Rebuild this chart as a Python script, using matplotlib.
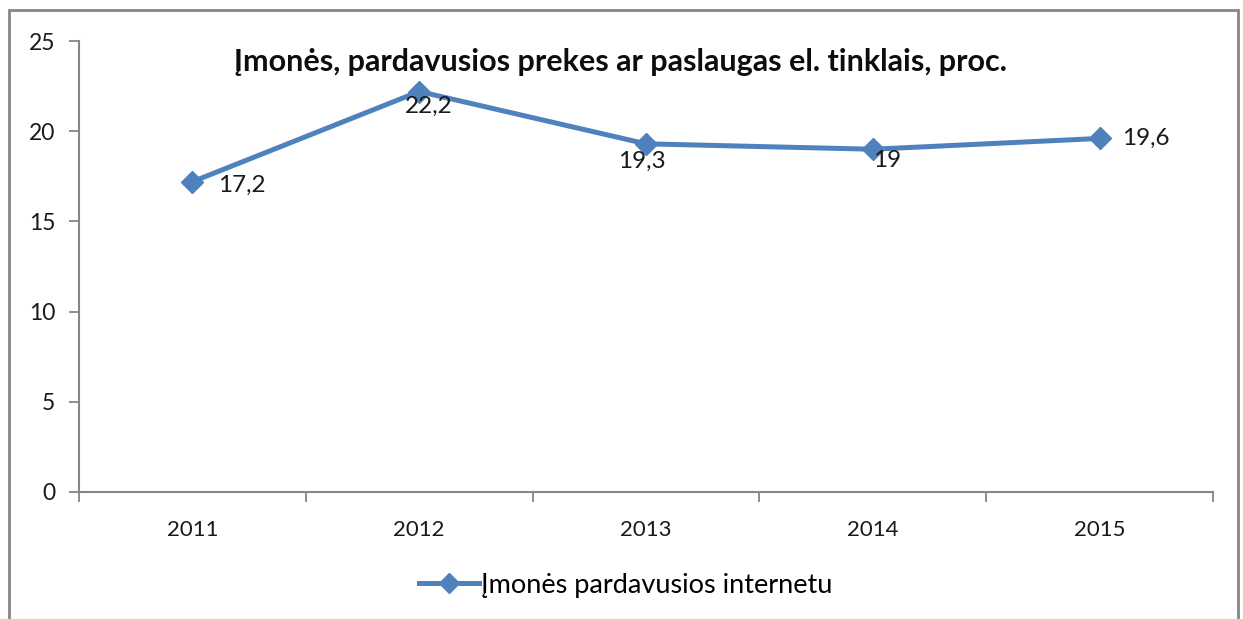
import matplotlib.pyplot as plt
from matplotlib.patches import Rectangle
from matplotlib.lines import Line2D

plt.rcParams['font.family'] = ['Lato', 'DejaVu Sans']

# --- DATOS ---
metai = ['2011', '2012', '2013', '2014', '2015']
reiksmes = [17.2, 22.2, 19.3, 19.0, 19.6]
etiketes = ['17,2', '22,2', '19,3', '19', '19,6']
# poslinkis etikečių (pikseliais), kaip Excel'yje
poslinkiai = [(26, -4), (10, -15), (-4, -18), (14, -11), (22, 0)]
lygiuote = ['left', 'center', 'center', 'center', 'left']

pavadinimas = 'Įmonės, pardavusios prekes ar paslaugas el. tinklais, proc.'
legenda = 'Įmonės pardavusios internetu'

MELYNA = '#4F81BD'
PILKA = '#868686'
TEKSTAS = '#1a1a1a'

fig = plt.figure(figsize=(12.43, 6.19), dpi=100)

# išorinis rėmelis
fig.patches.append(Rectangle((9 / 1243, -0.05), (1238 - 9) / 1243, 1.05 - 10 / 619,
                             transform=fig.transFigure, fill=False,
                             edgecolor=PILKA, linewidth=2))

ax = fig.add_axes([79 / 1243, (619 - 492) / 619, (1213 - 79) / 1243, (492 - 41) / 619])

x = list(range(len(metai)))
ax.plot(x, reiksmes, color=MELYNA, linewidth=3.6, marker='D', markersize=11,
        markeredgecolor=MELYNA, markerfacecolor=MELYNA)

for xi, yi, txt, off, ha in zip(x, reiksmes, etiketes, poslinkiai, lygiuote):
    ax.annotate(txt, (xi, yi), xytext=off, textcoords='offset pixels',
                ha=ha, va='center', fontsize=17.5, color=TEKSTAS)

ax.set_xlim(-0.5, len(metai) - 0.5)
ax.set_ylim(0, 25)
ax.set_yticks([0, 5, 10, 15, 20, 25])
ax.set_xticks([i - 0.5 for i in range(len(metai) + 1)])
ax.set_xticklabels([])
ax.set_xticks(x, minor=True)
ax.set_xticklabels(metai, minor=True)

ax.tick_params(axis='x', which='major', length=7, width=1.3, color=PILKA, direction='out')
ax.tick_params(axis='x', which='minor', length=0, pad=20, labelsize=16, labelcolor=TEKSTAS)
ax.tick_params(axis='y', length=7, width=1.3, color=PILKA, pad=10, labelsize=16.5, labelcolor=TEKSTAS)

for s in ['top', 'right']:
    ax.spines[s].set_visible(False)
for s in ['left', 'bottom']:
    ax.spines[s].set_color(PILKA)
    ax.spines[s].set_linewidth(1.5)

fig.text(621 / 1243, 1 - 62 / 619, pavadinimas, ha='center', va='center',
         fontsize=22, fontweight='bold', color='#0d0d0d')

rankena = Line2D([], [], color=MELYNA, linewidth=3.6, marker='D', markersize=10)
fig.legend([rankena], [legenda], loc='center', bbox_to_anchor=(626 / 1243, 1 - 585 / 619),
           frameon=False, fontsize=19.5, handlelength=2.2, handletextpad=0.1)

fig.savefig('out.png', dpi=100)
